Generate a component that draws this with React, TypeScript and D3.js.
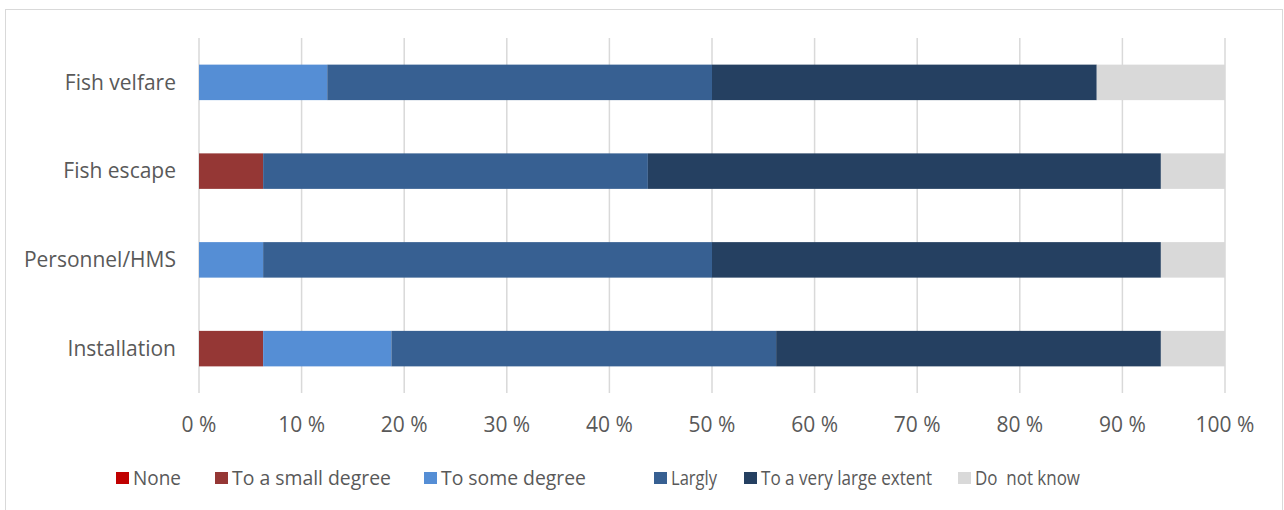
import * as d3 from 'd3';

const categories = ['Fish velfare', 'Fish escape', 'Personnel/HMS', 'Installation'];
const seriesNames = ['None', 'To a small degree', 'To some degree', 'Largly', 'To a very large extent', 'Do  not know'];
// shares per category, same order as categories
const none = [0, 0, 0, 0];
const smallDegree = [0, 6.25, 0, 6.25];
const someDegree = [12.5, 0, 6.25, 12.5];
const largly = [37.5, 37.5, 43.75, 37.5];
const veryLarge = [37.5, 50, 43.75, 37.5];
const doNotKnow = [12.5, 6.25, 6.25, 6.25];
const ticks = [0, 10, 20, 30, 40, 50, 60, 70, 80, 90, 100];

const COLORS = ['#C00000', '#953735', '#558ED5', '#376092', '#254061', '#D9D9D9'];
const W = 1284;
const H = 510;
const M = { top: 38, right: 59, bottom: 117, left: 199 };
const FONT = '"Open Sans", "Noto Sans", sans-serif';
const TEXT = '#595959';
// legend layout: item left edges and text widths as in the original
const LEGEND_X = [116, 215, 424, 654, 744, 958];
const LEGEND_W = [48, 159, 145, 46, 171, 105];

export default function App() {
  const series = [none, smallDegree, someDegree, largly, veryLarge, doNotKnow];
  const rows = categories.map((c, i) => {
    const r: Record<string, any> = { cat: c };
    seriesNames.forEach((s, j) => (r[s] = series[j][i]));
    return r;
  });
  const stacked = d3.stack().keys(seriesNames)(rows as any);

  const x = d3.scaleLinear().domain([0, 100]).range([M.left, W - M.right]);
  const y = d3.scaleBand().domain(categories).range([M.top, H - M.bottom]).paddingInner(0.6).paddingOuter(0.3);

  return (
    <svg width={W} height={H} style={{ position: 'absolute', left: 0, top: 0 }} fontFamily={FONT}>
      <rect x={5.5} y={9.5} width={1277} height={520} fill="#fff" stroke="#D9D9D9" />
      {ticks.map((t) => (
        <line key={t} x1={x(t)} x2={x(t)} y1={M.top} y2={H - M.bottom} stroke="#D9D9D9" strokeWidth={1.5} />
      ))}
      {stacked.map((s, j) =>
        s.map((d, i) =>
          d[1] - d[0] > 0 ? (
            <rect
              key={`${j}-${i}`}
              x={x(d[0])}
              y={y(categories[i])}
              width={x(d[1]) - x(d[0])}
              height={y.bandwidth()}
              fill={COLORS[j]}
            />
          ) : null
        )
      )}
      {categories.map((c) => (
        <text key={c} x={M.left - 23} y={y(c)! + y.bandwidth() / 2} dy="0.35em" textAnchor="end" fontSize={21} fill={TEXT}>
          {c}
        </text>
      ))}
      {ticks.map((t) => (
        <text key={t} x={x(t)} y={425} dy="0.35em" textAnchor="middle" fontSize={21} fill={TEXT}>
          {t} %
        </text>
      ))}
      {seriesNames.map((s, j) => (
        <g key={s} transform={`translate(${LEGEND_X[j]},472)`}>
          <rect width={13} height={12} fill={COLORS[j]} />
          <text
            x={17}
            y={6}
            dy="0.35em"
            fontSize={20.5}
            fill={TEXT}
            textLength={LEGEND_W[j]}
            lengthAdjust="spacingAndGlyphs"
            style={{ whiteSpace: 'pre' }}
          >
            {s}
          </text>
        </g>
      ))}
    </svg>
  );
}
